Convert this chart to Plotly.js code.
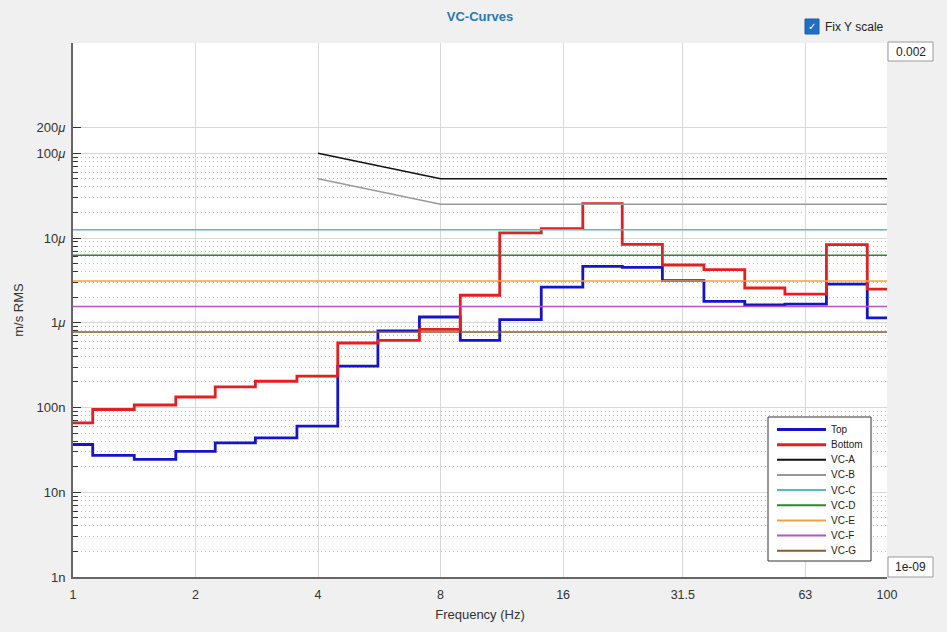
<!DOCTYPE html>
<html>
<head>
<meta charset="utf-8">
<script src="https://cdn.plot.ly/plotly-3.0.1.min.js"></script>
<style>
  html, body { margin: 0; padding: 0; background: #f0f0f0; }
  #chart { width: 947px; height: 632px; }
</style>
</head>
<body>
<div id="chart"></div>
<script>
// One-third-octave band centre frequencies (Hz)
const bandCenters = [1, 1.25, 1.6, 2, 2.5, 3.15, 4, 5, 6.3, 8, 10, 12.5, 16, 20, 25, 31.5, 40, 50, 63, 80, 100];

// Measured velocity (m/s RMS) per band
const topValues = [36.6e-9, 27.2e-9, 24.4e-9, 30.3e-9, 38.3e-9, 43.8e-9, 60.2e-9, 307e-9, 800e-9, 1.17e-6,
  0.621e-6, 1.09e-6, 2.64e-6, 4.63e-6, 4.5e-6, 3.14e-6, 1.79e-6, 1.62e-6, 1.66e-6, 2.86e-6, 1.14e-6];
const bottomValues = [66e-9, 94.7e-9, 107e-9, 133e-9, 175e-9, 204e-9, 234e-9, 577e-9, 621e-9, 837e-9,
  2.11e-6, 11.5e-6, 12.9e-6, 25.4e-6, 8.4e-6, 4.8e-6, 4.23e-6, 2.57e-6, 2.18e-6, 8.34e-6, 2.50e-6];

// VC criterion curves
const vcAFreq = [4, 8, 100];
const vcAValues = [100e-6, 50e-6, 50e-6];
const vcBFreq = [4, 8, 100];
const vcBValues = [50e-6, 25e-6, 25e-6];
const vcFlatFreq = [1, 100];
const vcCLevel = 12.5e-6;
const vcDLevel = 6.25e-6;
const vcELevel = 3.12e-6;
const vcFLevel = 1.56e-6;
const vcGLevel = 0.78e-6;

// Axis ticks
const xTickVals = [1, 2, 4, 8, 16, 31.5, 63, 100];
const xTickText = ['1', '2', '4', '8', '16', '31.5', '63', '100'];
const yTickVals = [1e-9, 1e-8, 1e-7, 1e-6, 1e-5, 1e-4, 2e-4];
const yTickText = ['1n', '10n', '100n', '1<i>μ</i>', '10<i>μ</i>', '100<i>μ</i>', '200<i>μ</i>'];
const yMin = 1e-9, yMax = 0.002;

const yMinor = [];
for (let e = -9; e <= -5; e++) {
  for (let d = 2; d <= 9; d++) yMinor.push(d * Math.pow(10, e));
}

const fontFam = 'Liberation Sans, Arial, sans-serif';

function flat(name, level, color) {
  return { x: vcFlatFreq, y: vcFlatFreq.map(() => level), name: name, mode: 'lines',
    line: { color: color, width: 1.5 } };
}

const traces = [
  { x: bandCenters, y: topValues, name: 'Top', mode: 'lines', line: { color: '#1414c8', width: 2.8, shape: 'hvh' } },
  { x: bandCenters, y: bottomValues, name: 'Bottom', mode: 'lines', line: { color: '#e41f1f', width: 2.8, shape: 'hvh' } },
  { x: vcAFreq, y: vcAValues, name: 'VC-A', mode: 'lines', line: { color: '#111111', width: 1.5 } },
  { x: vcBFreq, y: vcBValues, name: 'VC-B', mode: 'lines', line: { color: '#999999', width: 1.5 } },
  flat('VC-C', vcCLevel, '#55bcc0'),
  flat('VC-D', vcDLevel, '#2a8a2a'),
  flat('VC-E', vcELevel, '#f0a53c'),
  flat('VC-F', vcFLevel, '#b455c8'),
  flat('VC-G', vcGLevel, '#8b5a2b')
];

// pixel helpers for UI decorations (layout only)
const L = 73, R = 887, T = 43, B = 577;
const px = v => (v - L) / (R - L);
const py = v => (B - v) / (B - T);

const shapes = [
  { type: 'rect', xref: 'paper', yref: 'paper', x0: px(805), x1: px(819), y0: py(34), y1: py(19),
    fillcolor: '#1f6fc5', line: { color: '#1a5fa8', width: 1 } },
  { type: 'rect', xref: 'paper', yref: 'paper', x0: px(888), x1: px(933), y0: py(61), y1: py(42),
    fillcolor: '#ffffff', line: { color: '#9a9a9a', width: 1 } },
  { type: 'rect', xref: 'paper', yref: 'paper', x0: px(888), x1: px(933), y0: py(577), y1: py(557),
    fillcolor: '#ffffff', line: { color: '#9a9a9a', width: 1 } },
  // legend box
  { type: 'rect', xref: 'paper', yref: 'paper', x0: px(768), x1: px(871), y0: py(561), y1: py(417),
    fillcolor: '#ffffff', line: { color: '#333333', width: 1 } }
];
const annotations = [
  { xref: 'paper', yref: 'paper', x: px(812), y: py(26.5), text: '✓', showarrow: false,
    font: { family: 'DejaVu Sans', size: 10, color: '#ffffff' }, xanchor: 'center', yanchor: 'middle' },
  { xref: 'paper', yref: 'paper', x: px(823), y: py(27), text: 'Fix Y scale', showarrow: false,
    font: { family: fontFam, size: 12, color: '#222' }, xanchor: 'left', yanchor: 'middle' },
  { xref: 'paper', yref: 'paper', x: px(910.5), y: py(52), text: '0.002', showarrow: false,
    font: { family: fontFam, size: 12, color: '#222' }, xanchor: 'center', yanchor: 'middle' },
  { xref: 'paper', yref: 'paper', x: px(910.5), y: py(567), text: '1e-09', showarrow: false,
    font: { family: fontFam, size: 12, color: '#222' }, xanchor: 'center', yanchor: 'middle' }
];

// legend entries built from the traces
traces.forEach((t, i) => {
  const yc = 429.5 + i * 15.15;
  shapes.push({ type: 'line', xref: 'paper', yref: 'paper', x0: px(777), x1: px(826), y0: py(yc), y1: py(yc),
    line: { color: t.line.color, width: i < 2 ? 3 : 2 } });
  annotations.push({ xref: 'paper', yref: 'paper', x: px(829), y: py(yc), text: t.name, showarrow: false,
    font: { family: fontFam, size: 10, color: '#222' }, xanchor: 'left', yanchor: 'middle' });
});

const layout = {
  width: 947, height: 632,
  margin: { l: L, r: 947 - R, t: T, b: 632 - B, pad: 0 },
  paper_bgcolor: '#f0f0f0',
  plot_bgcolor: '#ffffff',
  font: { family: fontFam, size: 12, color: '#333333' },
  title: { text: '<b>VC-Curves</b>', x: 0.5, xref: 'paper', xanchor: 'center',
    y: 1 - 16 / 632, yanchor: 'middle', font: { family: fontFam, size: 13, color: '#2a78b4' } },
  showlegend: false,
  xaxis: {
    type: 'log', range: [0, 2],
    tickmode: 'array', tickvals: xTickVals, ticktext: xTickText,
    showgrid: true, gridcolor: '#d9d9d9', gridwidth: 1,
    showline: true, linecolor: '#666666', linewidth: 2,
    ticks: '', zeroline: false, ticklabelstandoff: 5,
    tickfont: { family: fontFam, size: 12.5, color: '#333' },
    title: { text: 'Frequency (Hz)', font: { family: fontFam, size: 13, color: '#333' }, standoff: 9 }
  },
  yaxis: {
    type: 'log', range: [Math.log10(yMin), Math.log10(yMax)],
    tickmode: 'array', tickvals: yTickVals, ticktext: yTickText,
    showgrid: true, gridcolor: '#d9d9d9', gridwidth: 1,
    showline: true, linecolor: '#666666', linewidth: 2,
    ticks: 'inside', ticklen: 8, tickcolor: '#333', tickwidth: 1,
    zeroline: false, ticklabelstandoff: 3,
    tickfont: { family: fontFam, size: 13, color: '#333' },
    minor: { tickmode: 'array', tickvals: yMinor, ticks: 'inside', ticklen: 5, tickcolor: '#333',
      showgrid: true, gridcolor: '#bdbdbd', griddash: '1px,3px', gridwidth: 1 },
    title: { text: 'm/s RMS', font: { family: fontFam, size: 13, color: '#333' }, standoff: 10 }
  },
  shapes: shapes,
  annotations: annotations
};

Plotly.newPlot('chart', traces, layout, { displayModeBar: false, staticPlot: true });
</script>
</body>
</html>
